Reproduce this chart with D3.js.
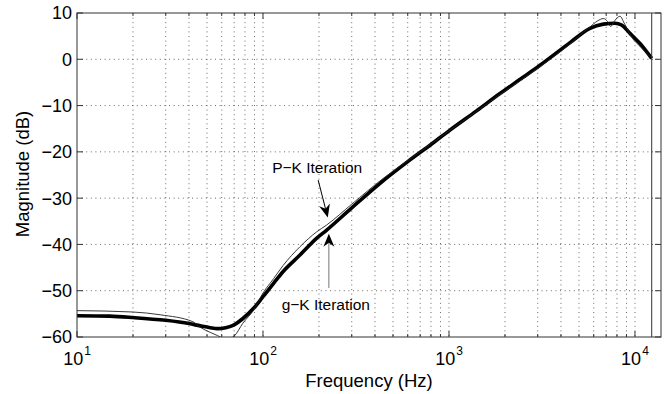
<!DOCTYPE html>
<html>
<head>
<meta charset="utf-8">
<script src="https://cdn.jsdelivr.net/npm/d3@7"></script>
<style>
  body { margin: 0; background: #fff; }
  text { font-family: "Liberation Sans", Arial, Helvetica, sans-serif; fill: #000; }
</style>
</head>
<body>
<div id="chart"></div>
<script>
// g-K iteration (thick line)
const freqGK = [10, 15, 20, 30, 40, 46, 52, 57, 63, 69, 78, 89, 100, 114, 128, 158, 194, 220, 300, 444, 600, 800, 1012, 1400, 1880, 2500, 3085, 4475, 5730, 6760, 7800, 8470, 9400, 10640, 11570, 12300];
const magGK = [-55.4, -55.5, -55.8, -56.4, -57.1, -57.6, -58.0, -58.2, -58.0, -57.5, -56.0, -53.8, -51.3, -48.4, -45.9, -42.3, -38.7, -36.9, -32.1, -26.2, -22.1, -18.4, -15.3, -11.2, -7.4, -3.9, -1.3, 3.6, 6.7, 7.6, 7.8, 7.4, 5.6, 3.4, 1.6, 0.2];

// P-K iteration (thin line)
const freqPK = [10, 20, 28, 42, 46, 52, 57, 62, 66, 70, 78, 89, 100, 114, 128, 158, 194, 220, 300, 444, 600, 800, 1012, 1400, 1880, 2500, 3085, 4475, 5300, 5730, 6300, 6760, 7100, 7400, 7800, 8300, 8800, 9700, 10640, 11570, 12300];
const magPK = [-54.3, -54.6, -55.2, -56.7, -57.9, -59.0, -59.7, -60.3, -60.3, -59.8, -57.0, -54.2, -50.5, -47.4, -44.6, -40.5, -37.3, -35.8, -31.3, -25.7, -21.9, -18.3, -15.3, -11.3, -7.6, -4.2, -1.6, 3.3, 5.9, 7.0, 8.3, 8.8, 8.2, 7.1, 8.4, 9.3, 7.6, 4.5, 2.8, 1.3, 0.3];

const endFreq = 12300;

const xMajor = [10, 100, 1000, 10000];
const xExp = ['1', '2', '3', '4'];
const yTicks = [-60, -50, -40, -30, -20, -10, 0, 10];

// annotation text and arrows, in data units (freq, dB)
const labels = ['P\u2212K Iteration', 'g\u2212K Iteration'];
const labelPos = [[112, -24.6], [126, -54.2]];
const arrowTail = [[198, -26.1], [226, -49.4]];
const arrowTip = [[223, -34.2], [226, -37.7]];
const arrowColor = ['#000', '#777'];

const width = 670, height = 394;
const margin = { top: 13, right: 9, bottom: 57, left: 77 };
const w = width - margin.left - margin.right,
  h = height - margin.top - margin.bottom;

const svg = d3.select('#chart').append('svg')
  .attr('width', width).attr('height', height);
const g = svg.append('g')
  .attr('transform', 'translate(' + margin.left + ',' + margin.top + ')');

const x = d3.scaleLog().domain([10, 13800]).range([0, w]);
const y = d3.scaleLinear().domain([-60, 10]).range([h, 0]);

// all log ticks inside domain
let xAll = [];
xMajor.forEach(d => {
  for (let k = 1; k <= 9; k++) if (d * k <= 13800) xAll.push(d * k);
});

// grid
g.append('g').selectAll('line').data(xAll.filter(d => d > 10)).join('line')
  .attr('x1', d => x(d)).attr('x2', d => x(d))
  .attr('y1', 0).attr('y2', h)
  .attr('stroke', '#444').attr('stroke-width', 0.8)
  .attr('stroke-dasharray', '1,3.6');
g.append('g').selectAll('line').data(yTicks.filter(d => d > -60 && d < 10)).join('line')
  .attr('x1', 0).attr('x2', w)
  .attr('y1', d => y(d)).attr('y2', d => y(d))
  .attr('stroke', '#444').attr('stroke-width', 0.8)
  .attr('stroke-dasharray', '1,3.6');

// ticks (inward, all four sides)
const ticks = g.append('g').attr('stroke', '#333').attr('stroke-width', 1);
xAll.forEach(d => {
  const len = xMajor.includes(d) ? 6 : 3;
  ticks.append('line').attr('x1', x(d)).attr('x2', x(d)).attr('y1', h).attr('y2', h - len);
  ticks.append('line').attr('x1', x(d)).attr('x2', x(d)).attr('y1', 0).attr('y2', len);
});
yTicks.forEach(d => {
  ticks.append('line').attr('x1', 0).attr('x2', 6).attr('y1', y(d)).attr('y2', y(d));
  ticks.append('line').attr('x1', w).attr('x2', w - 6).attr('y1', y(d)).attr('y2', y(d));
});

// data lines
g.append('clipPath').attr('id', 'clip').append('rect')
  .attr('width', w).attr('height', h);

const line = d3.line().curve(d3.curveMonotoneX)
  .x(d => x(d[0])).y(d => y(d[1]));

const plot = g.append('g').attr('clip-path', 'url(#clip)');
plot.append('path')
  .datum(d3.zip(freqGK, magGK))
  .attr('fill', 'none').attr('stroke', '#000')
  .attr('stroke-width', 3.6).attr('stroke-linejoin', 'round')
  .attr('d', line);
plot.append('path')
  .datum(d3.zip(freqPK, magPK))
  .attr('fill', 'none').attr('stroke', '#222')
  .attr('stroke-width', 0.9).attr('stroke-linejoin', 'round')
  .attr('d', line);

// vertical line at end of data
g.append('line')
  .attr('x1', x(endFreq)).attr('x2', x(endFreq))
  .attr('y1', y(-60)).attr('y2', y(10))
  .attr('stroke', '#333').attr('stroke-width', 1);

// box
g.append('rect').attr('width', w).attr('height', h)
  .attr('fill', 'none').attr('stroke', '#333').attr('stroke-width', 1);

// tick labels
g.append('g').selectAll('text').data(yTicks).join('text')
  .attr('x', -5).attr('y', d => y(d)).attr('dy', '0.36em')
  .attr('text-anchor', 'end').attr('font-size', 18)
  .text(d => (d < 0 ? '\u2212' + Math.abs(d) : d));

const xl = g.append('g').selectAll('text').data(xMajor).join('text')
  .attr('x', d => x(d)).attr('y', h + 28)
  .attr('text-anchor', 'middle').attr('font-size', 18);
xl.append('tspan').text('10');
xl.append('tspan').attr('dy', -10).attr('dx', 1).attr('font-size', 12).text((d, i) => xExp[i]);

// axis titles
g.append('text')
  .attr('x', w / 2).attr('y', h + 49.5)
  .attr('text-anchor', 'middle').attr('font-size', 18.5)
  .text('Frequency (Hz)');
g.append('text')
  .attr('transform', 'translate(-48,' + (h / 2 - 1) + ') rotate(-90)')
  .attr('text-anchor', 'middle').attr('font-size', 18.5)
  .text('Magnitude (dB)');

// annotations
g.append('g').selectAll('text').data(labels).join('text')
  .attr('x', (d, i) => x(labelPos[i][0]))
  .attr('y', (d, i) => y(labelPos[i][1]))
  .attr('font-size', 15.5)
  .text(d => d);

labels.forEach((d, i) => {
  const x1 = x(arrowTail[i][0]), y1 = y(arrowTail[i][1]);
  const x2 = x(arrowTip[i][0]), y2 = y(arrowTip[i][1]);
  const a = Math.atan2(y2 - y1, x2 - x1);
  const L = 13, W = 5.5, N = 9;
  const ux = Math.cos(a), uy = Math.sin(a);
  const px = -uy, py = ux;
  g.append('line')
    .attr('x1', x1).attr('y1', y1)
    .attr('x2', x2 - ux * N).attr('y2', y2 - uy * N)
    .attr('stroke', arrowColor[i]).attr('stroke-width', 1);
  const head = [
    [x2, y2],
    [x2 - ux * L + px * W, y2 - uy * L + py * W],
    [x2 - ux * N, y2 - uy * N],
    [x2 - ux * L - px * W, y2 - uy * L - py * W]
  ];
  g.append('path')
    .attr('d', 'M' + head.map(p => p.join(',')).join('L') + 'Z')
    .attr('fill', '#000');
});
</script>
</body>
</html>
